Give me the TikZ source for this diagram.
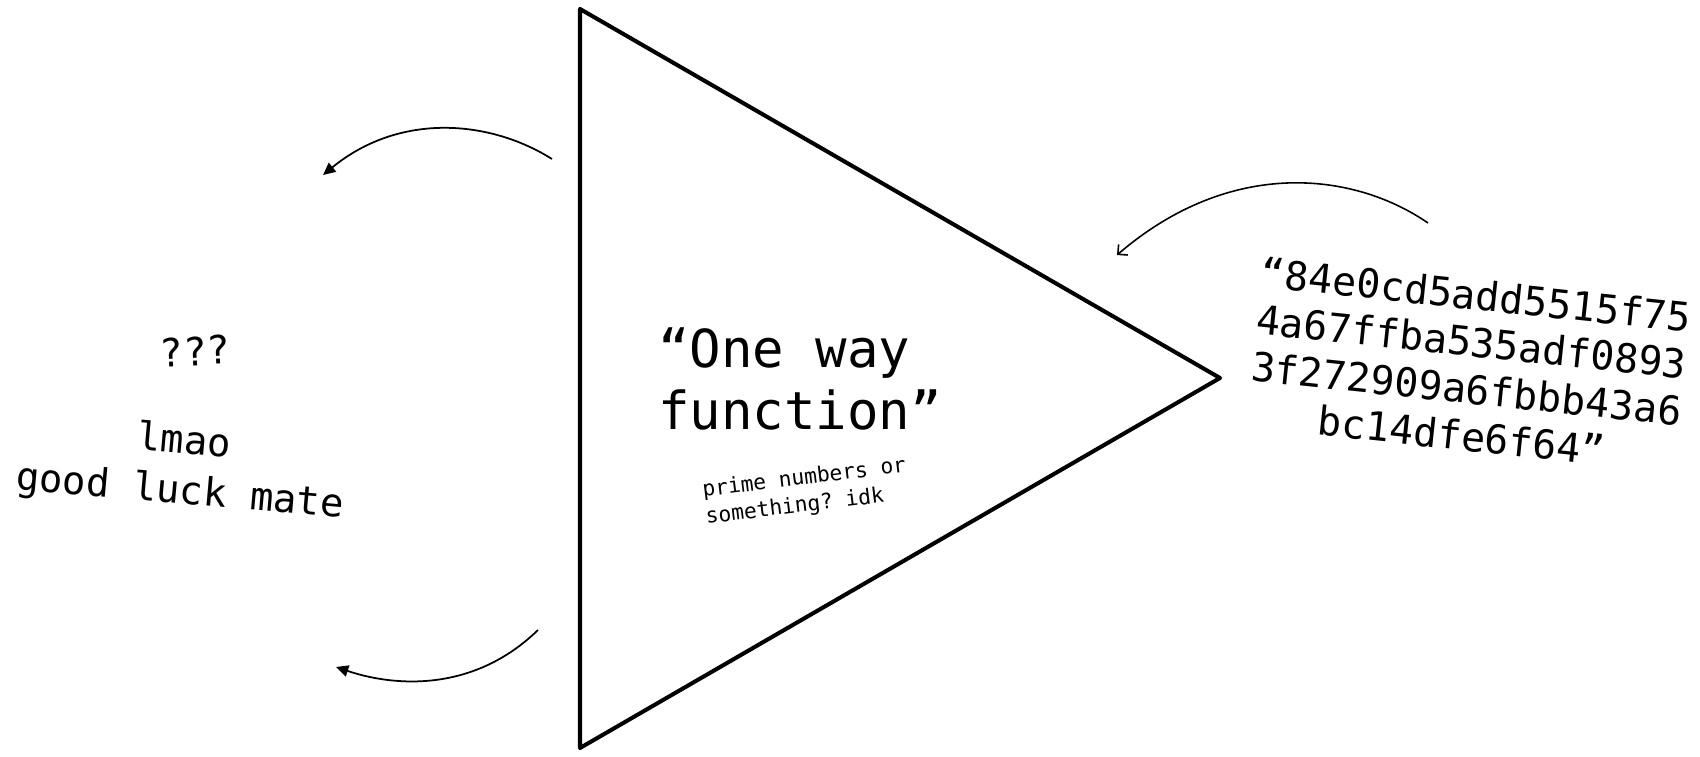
\documentclass[tikz,border=0pt]{standalone}
\usepackage{fontspec}
\setmonofont{DejaVu Sans Mono}
\usetikzlibrary{arrows.meta}
\begin{document}
\begin{tikzpicture}[x=0.02cm,y=-0.02cm,
  tri/.style={draw=black, line width=2.3pt, line join=round},
  arr/.style={line width=1pt, -{Triangle[length=7pt,width=6.5pt]}},
  arrb/.style={line width=0.9pt, -{Straight Barb[length=4pt,width=8pt]}},
  txt/.style={font=\ttfamily, inner sep=0pt},
]
\useasboundingbox (0,0) rectangle (1700,757);
% triangle
\coordinate (A) at (580,9);
\coordinate (B) at (580,748);
\coordinate (C) at (1220,378);
\draw[tri] (A) -- (B) -- (C) -- cycle;
% texts
\node[txt, rotate=3, font=\ttfamily\fontsize{22.2}{28}\selectfont] (q) at (195,351) {???};
\node[txt, rotate=-5, align=center, font=\ttfamily\fontsize{22.2}{28.3}\selectfont] (lm) at (182,468) {lmao\\good luck mate};
\node[txt, align=left, font=\ttfamily\fontsize{29.8}{35.7}\selectfont] (owf) at (800,379) {“One way\\function”};
\node[txt, rotate=7, align=left, font=\ttfamily\fontsize{12.1}{15.5}\selectfont] (pn) at (806,492) {prime numbers or\\something? idk};
\node[txt, rotate=-6, align=center, font=\ttfamily\fontsize{22.7}{26.8}\selectfont] (hash) at (1469,365) {“84e0cd5add5515f75\\4a67ffba535adf0893\\3f272909a6fbbb43a6\\bc14dfe6f64”};
% arrows
\coordinate (a1s) at (552,159);
\coordinate (a1e) at (323,175);
\draw[arr] (a1s) .. controls (490,120) and (400,112) .. (a1e);
\coordinate (a2s) at (538,630);
\coordinate (a2e) at (336,667);
\draw[arr] (a2s) .. controls (472,694) and (392,686) .. (a2e);
\coordinate (a3s) at (1428,223);
\coordinate (a3e) at (1117,255);
\draw[arrb] (a3s) .. controls (1354,172) and (1231,157) .. (a3e);
\end{tikzpicture}
\end{document}
